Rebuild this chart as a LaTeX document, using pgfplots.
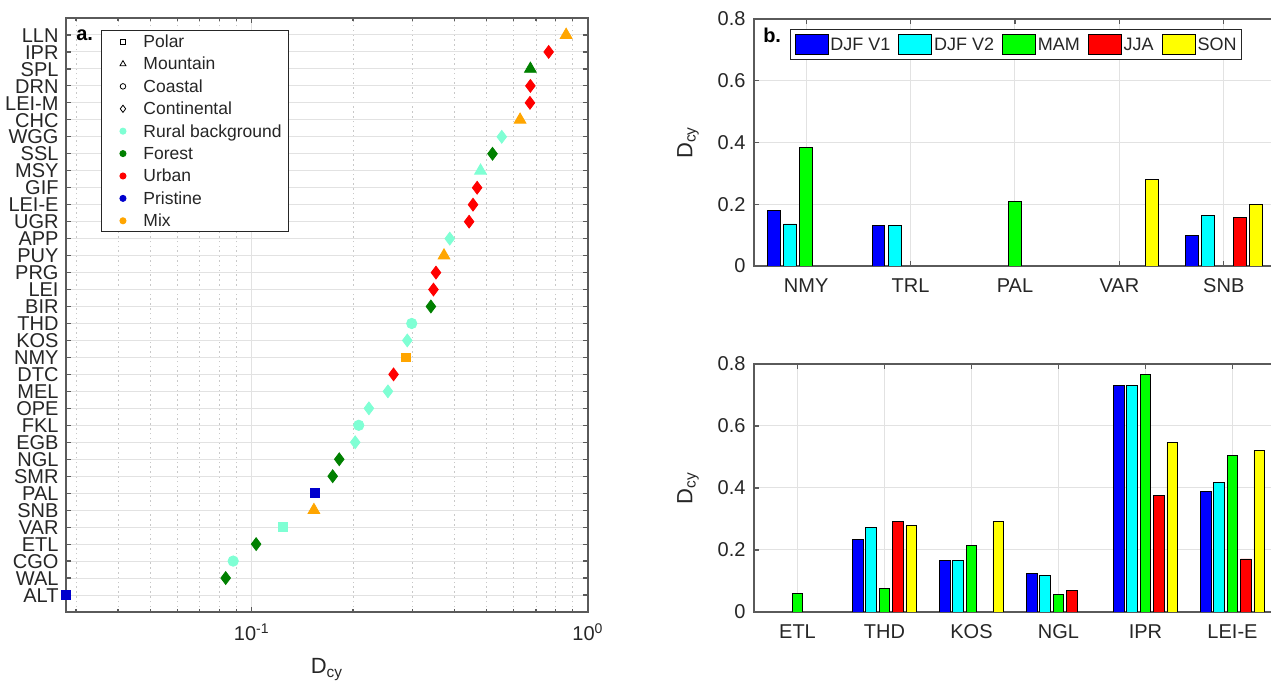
\documentclass[border=0pt]{standalone}
\usepackage{pgfplots}
\pgfplotsset{compat=1.18}
\usepackage{fontspec}
\setmainfont{Liberation Sans}
\definecolor{aqua}{RGB}{127,255,212}
\definecolor{forest}{RGB}{0,128,0}
\definecolor{urban}{RGB}{255,0,0}
\definecolor{pristine}{RGB}{0,0,205}
\definecolor{mix}{RGB}{255,165,0}
\definecolor{axline}{RGB}{90,90,90}
\definecolor{ticktext}{RGB}{38,38,38}
\definecolor{gridc}{RGB}{226,226,226}
\definecolor{mgridc}{RGB}{200,200,200}
\definecolor{bblue}{RGB}{0,0,255}
\definecolor{bcyan}{RGB}{0,255,255}
\definecolor{bgreen}{RGB}{0,255,0}
\definecolor{bred}{RGB}{255,0,0}
\definecolor{byellow}{RGB}{255,255,0}
\pgfplotsset{
  mstyle/.style={
    scale only axis, anchor=south west,
    axis line style={axline, line width=0.6pt},
    tick style={axline, line width=0.6pt},
    tick align=inside,
    major tick length=2.5pt, minor tick length=1.5pt,
    tick label style={font=\fontsize{10}{12}\selectfont, text=ticktext},
    label style={font=\fontsize{11}{13}\selectfont, text=ticktext},
    major grid style={gridc, line width=0.5pt},
    minor grid style={mgridc, line width=0.4pt, dash pattern=on 0.8pt off 1.6pt},
  },
  barstyle/.style={ybar, bar width=0.123, draw=black, line width=0.4pt},
}
\begin{document}
\begin{tikzpicture}
\useasboundingbox (0,0) rectangle (635.5pt,342pt);
% ---------------- panel a ----------------
\begin{axis}[mstyle,
  at={(33pt,36pt)}, width=261pt, height=297pt,
  xmode=log, xmin=0.028, xmax=1, ymin=0, ymax=35,
  xtick={0.1,1}, xticklabels={10\textsuperscript{-1},10\textsuperscript{0}},
  minor xtick={0.03,0.04,0.05,0.06,0.07,0.08,0.09,0.2,0.3,0.4,0.5,0.6,0.7,0.8,0.9},
  ytick={1,...,34},
  yticklabels={ALT,WAL,CGO,ETL,VAR,SNB,PAL,SMR,NGL,EGB,FKL,OPE,MEL,DTC,NMY,KOS,THD,BIR,LEI,PRG,PUY,APP,UGR,LEI-E,GIF,MSY,SSL,WGG,CHC,LEI-M,DRN,SPL,IPR,LLN},
  yticklabel style={text height=7.2pt, text depth=0pt, inner ysep=0.3pt},
  xmajorgrids, xminorgrids, ymajorgrids,
  xticklabel shift=2.2pt, yticklabel shift=0.2pt,
  clip=false,
  xlabel={D\textsubscript{cy}},
  xlabel style={at={(axis description cs:0.5,0)}, anchor=north, yshift=-19.8pt},
  legend cell align=left,
  legend image code/.code={\path (0pt,0pt) (15pt,0pt); \draw[#1] plot coordinates {(8pt,0pt)};},
  legend style={at={(rel axis cs:0.067,0.980)}, anchor=north west,
    draw=ticktext, line width=0.5pt, fill=white,
    font=\fontsize{8.75}{10}\selectfont, text=ticktext,
    inner xsep=2.5pt, inner ysep=0pt, row sep=0pt, column sep=2pt,
    nodes={inner xsep=1pt, inner ysep=0pt, text height=8.6pt, text depth=2.6pt}},
]
\addlegendimage{only marks, mark=square, mark size=1.3pt, black, line width=0.4pt}
\addlegendentry{Polar}
\addlegendimage{only marks, mark=triangle, mark size=1.7pt, black, line width=0.4pt}
\addlegendentry{Mountain}
\addlegendimage{only marks, mark=o, mark size=1.4pt, black, line width=0.4pt}
\addlegendentry{Coastal}
\addlegendimage{only marks, mark=diamond, mark size=1.8pt, black, line width=0.4pt}
\addlegendentry{Continental}
\addlegendimage{only marks, mark=*, mark size=1.5pt, aqua}
\addlegendentry{Rural background}
\addlegendimage{only marks, mark=*, mark size=1.5pt, forest}
\addlegendentry{Forest}
\addlegendimage{only marks, mark=*, mark size=1.5pt, urban}
\addlegendentry{Urban}
\addlegendimage{only marks, mark=*, mark size=1.5pt, pristine}
\addlegendentry{Pristine}
\addlegendimage{only marks, mark=*, mark size=1.5pt, mix}
\addlegendentry{Mix}
% Mix
\addplot[forget plot, only marks, mark=triangle*, mark size=3.4pt, mix] coordinates {(0.861,34) (0.628,29) (0.373,21) (0.153,6)};
\addplot[forget plot, only marks, mark=square*, mark size=2.2pt, mix] coordinates {(0.288,15)};
% Urban
\addplot[forget plot, only marks, mark=diamond*, mark size=3.2pt, urban] coordinates {(0.764,33) (0.674,31) (0.672,30) (0.468,25) (0.455,24) (0.443,23) (0.353,20) (0.347,19) (0.264,14)};
% Forest
\addplot[forget plot, only marks, mark=triangle*, mark size=3.4pt, forest] coordinates {(0.674,32)};
\addplot[forget plot, only marks, mark=diamond*, mark size=3.2pt, forest] coordinates {(0.520,27) (0.341,18) (0.182,9) (0.174,8) (0.103,4) (0.0836,2)};
% Rural background
\addplot[forget plot, only marks, mark=diamond*, mark size=3.2pt, aqua] coordinates {(0.554,28) (0.388,22) (0.290,16) (0.254,13) (0.223,12) (0.203,10)};
\addplot[forget plot, only marks, mark=triangle*, mark size=3.4pt, aqua] coordinates {(0.479,26)};
\addplot[forget plot, only marks, mark=*, mark size=2.6pt, aqua] coordinates {(0.299,17) (0.208,11) (0.088,3)};
\addplot[forget plot, only marks, mark=square*, mark size=2.2pt, aqua] coordinates {(0.124,5)};
% Pristine
\addplot[forget plot, only marks, mark=square*, mark size=2.2pt, pristine] coordinates {(0.154,7) (0.028,1)};
\node[anchor=west, font=\bfseries\fontsize{10}{11}\selectfont, text=black, inner sep=0pt] at (rel axis cs:0.019,0.971) {a.};
\end{axis}
% ---------------- panel b top ----------------
\begin{axis}[mstyle,
  at={(377pt,209pt)}, width=261pt, height=123.5pt,
  xmin=0.5, xmax=5.5, ymin=0, ymax=0.8,
  xtick={1,...,5}, xticklabels={NMY,TRL,PAL,VAR,SNB},
  ytick={0,0.2,0.4,0.6,0.8}, yticklabels={0,0.2,0.4,0.6,0.8},
  xmajorgrids, ymajorgrids,
  xticklabel shift=2.7pt, yticklabel shift=0.7pt,
  ylabel={D\textsubscript{cy}},
  ylabel style={at={(axis description cs:-0.092,0.5)}, anchor=south, rotate=0},
  legend columns=5,
  legend image code/.code={\draw[#1] (0pt,-5pt) rectangle (16.5pt,5pt);},
  legend style={at={(rel axis cs:0.069,0.960)}, anchor=north west,
    draw=ticktext, line width=0.5pt, fill=white,
    font=\fontsize{9}{10}\selectfont, text=ticktext,
    inner xsep=2pt, inner ysep=2.25pt, column sep=0.5pt,
    /tikz/every even column/.append style={column sep=3.5pt},
    nodes={inner xsep=0.5pt, inner ysep=0pt, text height=8.2pt, text depth=1.8pt}},
]
\addplot[forget plot, barstyle, bar shift=-0.308, fill=bblue] coordinates {(1,0.181) (2,0.1315) (5,0.100)};
\addplot[forget plot, barstyle, bar shift=-0.154, fill=bcyan] coordinates {(1,0.136) (2,0.1315) (5,0.163)};
\addplot[forget plot, barstyle, bar shift=0, fill=bgreen] coordinates {(1,0.385) (3,0.210)};
\addplot[forget plot, barstyle, bar shift=0.154, fill=bred] coordinates {(5,0.158)};
\addplot[forget plot, barstyle, bar shift=0.308, fill=byellow] coordinates {(4,0.281) (5,0.2005)};
\addlegendimage{fill=bblue, draw=black, line width=0.4pt}
\addlegendentry{DJF V1}
\addlegendimage{fill=bcyan, draw=black, line width=0.4pt}
\addlegendentry{DJF V2}
\addlegendimage{fill=bgreen, draw=black, line width=0.4pt}
\addlegendentry{MAM}
\addlegendimage{fill=bred, draw=black, line width=0.4pt}
\addlegendentry{JJA}
\addlegendimage{fill=byellow, draw=black, line width=0.4pt}
\addlegendentry{SON}
\node[anchor=west, font=\bfseries\fontsize{10}{11}\selectfont, text=black, inner sep=0pt] at (rel axis cs:0.017,0.935) {b.};
\end{axis}
% ---------------- panel b bottom ----------------
\begin{axis}[mstyle,
  at={(377pt,36pt)}, width=261pt, height=124pt,
  xmin=0.5, xmax=6.5, ymin=0, ymax=0.8,
  xtick={1,...,6}, xticklabels={ETL,THD,KOS,NGL,IPR,LEI-E},
  ytick={0,0.2,0.4,0.6,0.8}, yticklabels={0,0.2,0.4,0.6,0.8},
  xmajorgrids, ymajorgrids,
  xticklabel shift=2.7pt, yticklabel shift=0.7pt,
  ylabel={D\textsubscript{cy}},
  ylabel style={at={(axis description cs:-0.092,0.5)}, anchor=south, rotate=0},
]
\addplot[barstyle, bar shift=-0.308, fill=bblue] coordinates {(2,0.234) (3,0.166) (4,0.124) (5,0.732) (6,0.388)};
\addplot[barstyle, bar shift=-0.154, fill=bcyan] coordinates {(2,0.273) (3,0.166) (4,0.118) (5,0.732) (6,0.419)};
\addplot[barstyle, bar shift=0, fill=bgreen] coordinates {(1,0.060) (2,0.076) (3,0.215) (4,0.056) (5,0.767) (6,0.505)};
\addplot[barstyle, bar shift=0.154, fill=bred] coordinates {(2,0.292) (4,0.069) (5,0.376) (6,0.171)};
\addplot[barstyle, bar shift=0.308, fill=byellow] coordinates {(2,0.279) (3,0.292) (5,0.547) (6,0.521)};
\end{axis}
\end{tikzpicture}
\end{document}
